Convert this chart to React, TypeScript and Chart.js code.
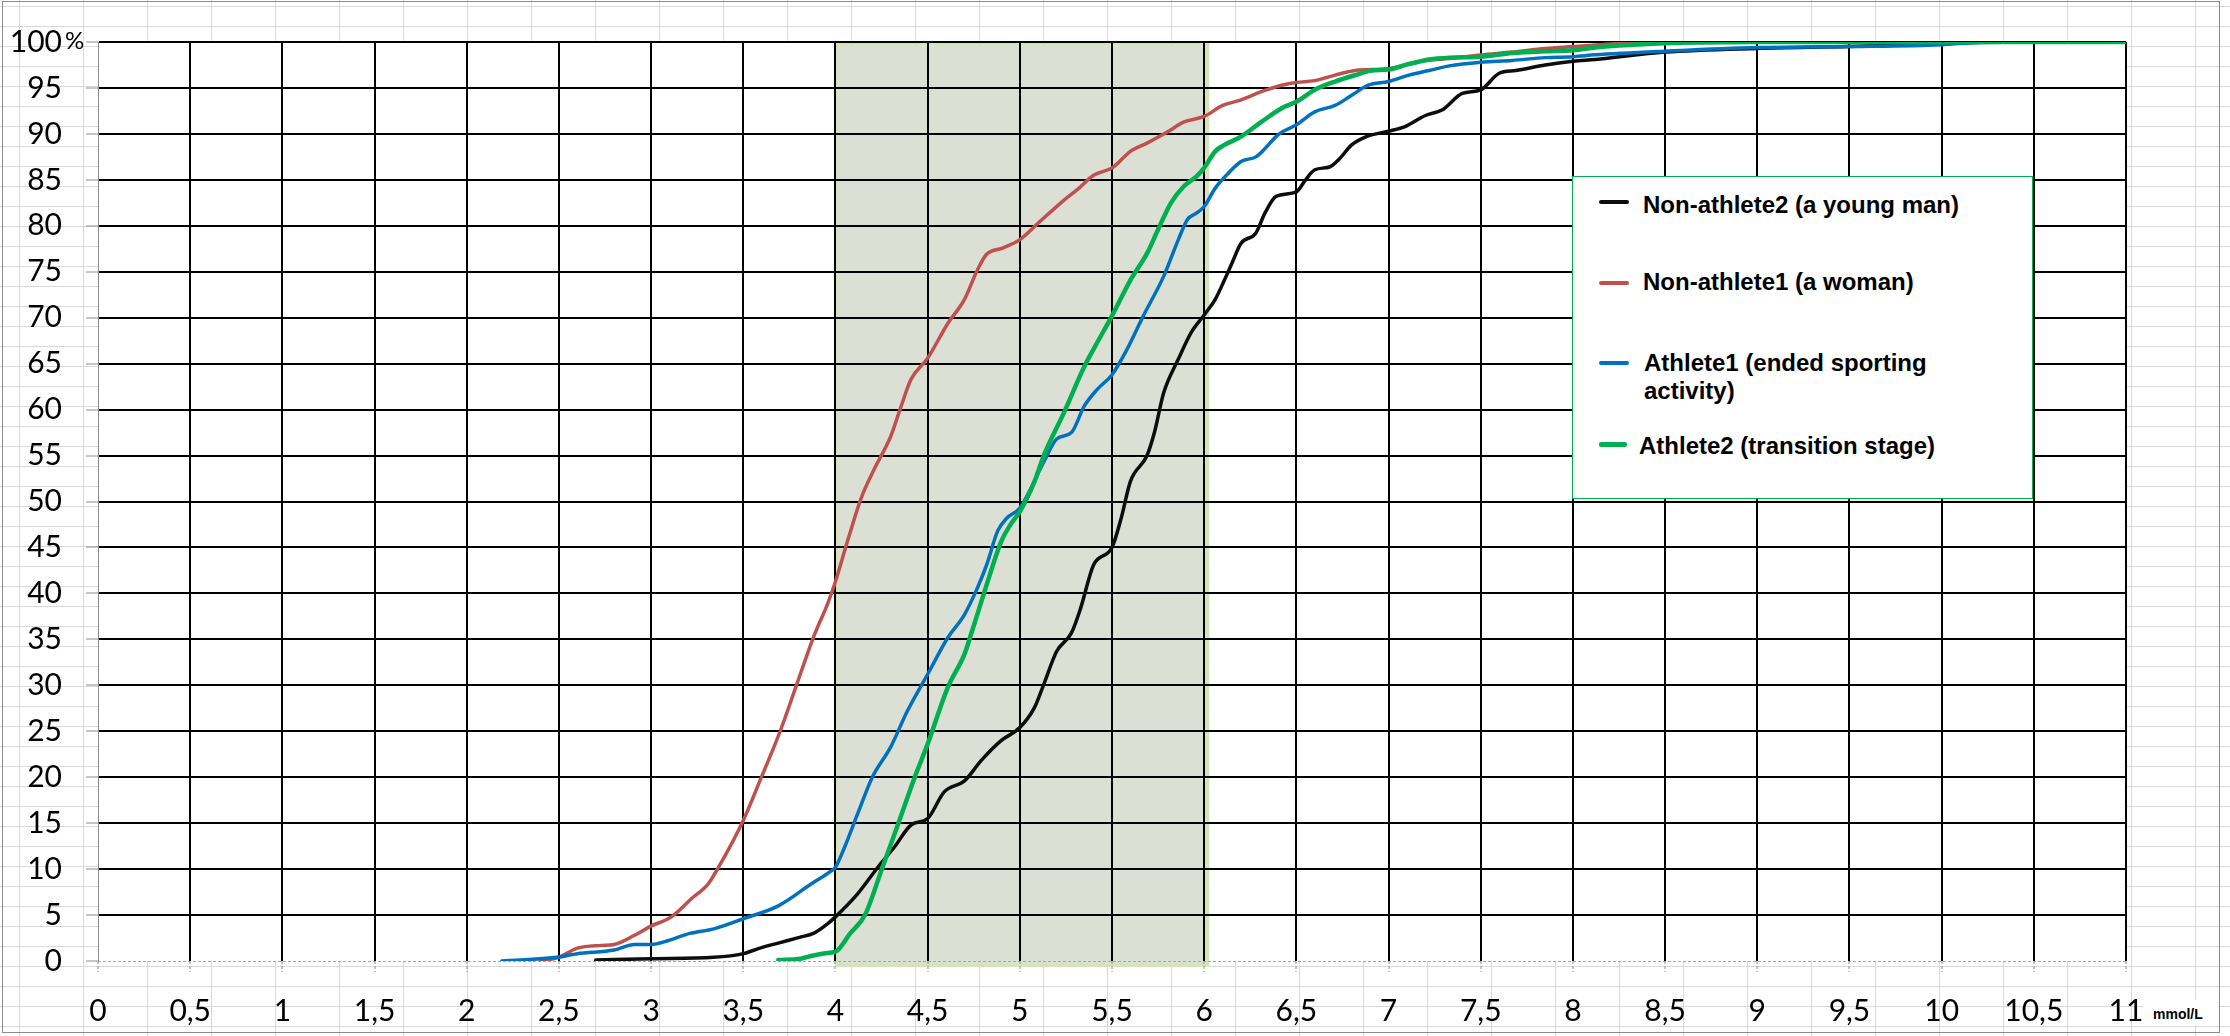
import { useEffect, useRef } from 'react';
import { Chart, registerables } from 'chart.js';

Chart.register(...registerables);

// glucose level, mmol/L (x) -> cumulative share of readings, % (y)
const SERIES_NAMES = [
  'Non-athlete2 (a young man)',
  'Non-athlete1 (a woman)',
  'Athlete1 (ended sporting activity)',
  'Athlete2 (transition stage)',
];
const SERIES_COLORS = ['#0d0d0d', '#c0504d', '#0070c0', '#00b050'];

const BLACK_X = [2.7, 3.0, 3.34, 3.5, 3.59, 3.7, 3.81, 3.88, 3.96, 4.0, 4.12, 4.23, 4.32, 4.41, 4.5, 4.59, 4.7, 4.79, 4.9, 5.0, 5.08, 5.13, 5.2, 5.28, 5.33, 5.4, 5.5, 5.55, 5.6, 5.69, 5.73, 5.78, 5.86, 5.93, 6.0, 6.06, 6.11, 6.15, 6.2, 6.28, 6.33, 6.39, 6.5, 6.55, 6.6, 6.68, 6.73, 6.8, 6.88, 7.0, 7.09, 7.2, 7.29, 7.4, 7.5, 7.6, 7.69, 7.85, 8.0, 8.12, 8.5, 9.0, 9.5, 10.0, 10.3, 11];
const BLACK_Y = [0.1, 0.25, 0.4, 0.8, 1.4, 2.0, 2.6, 3.0, 4.1, 4.8, 7.3, 10.2, 12.4, 14.8, 15.5, 18.4, 19.6, 21.8, 24.0, 25.4, 27.6, 30.1, 33.7, 35.7, 38.4, 43.1, 45.0, 48.2, 52.2, 55.0, 57.5, 61.8, 65.5, 68.4, 70.3, 72.0, 74.1, 75.9, 78.1, 79.2, 81.4, 83.2, 83.7, 85.0, 86.1, 86.4, 87.2, 88.8, 89.7, 90.3, 90.8, 92.0, 92.6, 94.4, 94.8, 96.6, 96.9, 97.5, 97.9, 98.1, 98.9, 99.3, 99.5, 99.8, 100, 100];

const RED_X = [2.4, 2.5, 2.6, 2.73, 2.8, 2.91, 3.0, 3.11, 3.22, 3.31, 3.36, 3.5, 3.59, 3.7, 3.79, 3.88, 3.96, 4.0, 4.07, 4.14, 4.21, 4.3, 4.35, 4.41, 4.5, 4.61, 4.7, 4.77, 4.82, 4.91, 5.0, 5.1, 5.24, 5.31, 5.4, 5.5, 5.6, 5.69, 5.8, 5.89, 6.0, 6.1, 6.2, 6.31, 6.42, 6.5, 6.6, 6.71, 6.82, 7.0, 7.11, 7.22, 7.33, 7.5, 7.67, 7.85, 8.0, 8.23, 8.5, 9.0, 11];
const RED_Y = [0, 0.4, 1.4, 1.7, 1.8, 2.8, 3.8, 4.8, 6.8, 8.4, 10.0, 15.3, 19.6, 25.0, 30.1, 35.2, 39.0, 41.3, 46.0, 50.4, 53.5, 57.1, 60.0, 63.3, 65.6, 69.4, 72.0, 75.2, 76.9, 77.6, 78.5, 80.3, 82.8, 83.9, 85.5, 86.3, 88.1, 89.0, 90.2, 91.3, 91.9, 93.1, 93.7, 94.6, 95.3, 95.6, 95.8, 96.4, 96.9, 97.1, 97.6, 98.0, 98.2, 98.6, 98.9, 99.3, 99.5, 99.8, 99.9, 100, 100];

const BLUE_X = [2.19, 2.5, 2.6, 2.8, 2.91, 3.0, 3.09, 3.21, 3.34, 3.5, 3.69, 3.87, 3.97, 4.0, 4.05, 4.12, 4.2, 4.3, 4.39, 4.5, 4.61, 4.7, 4.77, 4.82, 4.88, 4.93, 5.0, 5.13, 5.2, 5.28, 5.35, 5.42, 5.5, 5.58, 5.67, 5.78, 5.86, 5.91, 5.96, 6.0, 6.06, 6.13, 6.2, 6.28, 6.33, 6.4, 6.5, 6.6, 6.71, 6.8, 6.89, 7.0, 7.11, 7.22, 7.33, 7.5, 7.67, 7.85, 8.0, 8.12, 8.5, 9.0, 9.5, 10.0, 10.14, 10.5, 11];
const BLUE_Y = [0, 0.43, 0.8, 1.2, 1.8, 1.8, 2.2, 3.0, 3.5, 4.6, 6.0, 8.4, 9.7, 10.2, 12.4, 16.0, 20.0, 23.3, 27.2, 31.2, 35.2, 37.7, 40.6, 43.1, 46.8, 48.2, 49.3, 54.3, 56.8, 57.5, 60.4, 62.2, 63.8, 66.5, 70.2, 74.5, 78.5, 80.7, 81.4, 82.1, 84.1, 85.7, 87.0, 87.5, 88.4, 89.9, 91.0, 92.4, 93.1, 94.2, 95.3, 95.7, 96.4, 96.9, 97.4, 97.8, 98.0, 98.3, 98.4, 98.6, 99.0, 99.4, 99.5, 99.7, 99.9, 100, 100];

const GREEN_X = [3.69, 3.81, 3.88, 3.97, 4.0, 4.08, 4.16, 4.25, 4.34, 4.43, 4.5, 4.61, 4.7, 4.73, 4.81, 4.9, 4.95, 5.0, 5.08, 5.13, 5.24, 5.35, 5.42, 5.5, 5.6, 5.69, 5.75, 5.82, 5.89, 5.96, 6.0, 6.06, 6.11, 6.2, 6.31, 6.42, 6.5, 6.6, 6.71, 6.82, 6.91, 7.0, 7.11, 7.22, 7.33, 7.5, 7.67, 7.85, 8.0, 8.12, 8.23, 8.54, 9.0, 11];
const GREEN_Y = [0.1, 0.25, 0.6, 0.9, 1.0, 3.0, 5.0, 9.9, 14.9, 20.0, 23.6, 29.8, 33.4, 35.2, 40.3, 45.7, 47.5, 48.9, 52.2, 55.0, 59.7, 64.7, 67.3, 70.2, 74.1, 77.0, 79.6, 82.5, 84.3, 85.4, 86.3, 88.1, 88.8, 89.7, 91.3, 92.8, 93.5, 94.8, 95.7, 96.4, 96.9, 97.0, 97.6, 98.1, 98.3, 98.4, 98.8, 99.0, 99.1, 99.4, 99.6, 99.9, 100, 100];

const X_TICKS = [0, 0.5, 1, 1.5, 2, 2.5, 3, 3.5, 4, 4.5, 5, 5.5, 6, 6.5, 7, 7.5, 8, 8.5, 9, 9.5, 10, 10.5, 11];
const Y_TICKS = [0, 5, 10, 15, 20, 25, 30, 35, 40, 45, 50, 55, 60, 65, 70, 75, 80, 85, 90, 95, 100];
const NORMAL_RANGE = [4, 6];
const X_UNIT = 'mmol/L';

const SERIES_X = [BLACK_X, RED_X, BLUE_X, GREEN_X];
const SERIES_Y = [BLACK_Y, RED_Y, BLUE_Y, GREEN_Y];
const LINE_WIDTHS = [3.5, 3.5, 3.5, 4.5];
const DRAW_ORDER = [3, 2, 1, 0];

const tickFont = { family: 'Lato', size: 30 };

const rangePlugin = {
  id: 'normalRange',
  beforeDraw(chart: any) {
    const { ctx, chartArea, scales } = chart;
    ctx.save();
    ctx.fillStyle = '#ffffff';
    ctx.fillRect(chartArea.left, chartArea.top, chartArea.right - chartArea.left, chartArea.bottom - chartArea.top);
    const x0 = scales.x.getPixelForValue(NORMAL_RANGE[0]);
    const x1 = scales.x.getPixelForValue(NORMAL_RANGE[1]);
    ctx.fillStyle = '#dcdfd4';
    ctx.fillRect(x0, chartArea.top, x1 - x0 + 5, chartArea.bottom - chartArea.top + 6);
    ctx.strokeStyle = '#d6e2b8';
    ctx.lineWidth = 3;
    ctx.strokeRect(x0 + 1.5, chartArea.top + 1.5, x1 - x0 + 2, chartArea.bottom - chartArea.top + 3);
    ctx.restore();
  },
  beforeDatasetsDraw(chart: any) {
    // dashed grey x axis line along 0 %
    const { ctx, chartArea } = chart;
    ctx.save();
    ctx.strokeStyle = '#a6a6a6';
    ctx.lineWidth = 1;
    ctx.setLineDash([3, 2]);
    ctx.beginPath();
    ctx.moveTo(chartArea.left, Math.round(chartArea.bottom) + 0.5);
    ctx.lineTo(chartArea.right, Math.round(chartArea.bottom) + 0.5);
    ctx.stroke();
    ctx.restore();
  },
  afterDraw(chart: any) {
    const { ctx, scales } = chart;
    ctx.save();
    ctx.font = '24px Lato';
    ctx.fillStyle = '#000';
    ctx.textBaseline = 'alphabetic';
    ctx.fillText('%', 65, scales.y.getPixelForValue(100) + 6.5);
    ctx.restore();
  },
};

function Legend() {
  const textTops = [14, 91, 172, 255];
  const textLefts = [70, 70, 71, 66];
  const swatchMids = [25, 106, 186, 267];
  return (
    <div
      style={{
        position: 'absolute',
        left: 1572,
        top: 176,
        width: 461,
        height: 323,
        boxSizing: 'border-box',
        border: '1.5px solid #00b050',
        background: '#ffffff',
        fontFamily: '"Liberation Sans", Arial, sans-serif',
        fontWeight: 'bold',
        fontSize: 24,
        lineHeight: '28px',
        color: '#000',
      }}
    >
      {SERIES_NAMES.map((name, i) => (
        <div key={name}>
          <div
            style={{
              position: 'absolute',
              left: 26,
              top: swatchMids[i] - 2,
              width: i === 3 ? 28 : 30,
              height: i === 3 ? 5 : 4,
              borderRadius: 2,
              background: SERIES_COLORS[i],
            }}
          />
          <div style={{ position: 'absolute', left: textLefts[i], top: textTops[i], width: 330 }}>{name}</div>
        </div>
      ))}
    </div>
  );
}

export default function App() {
  const canvasRef = useRef<HTMLCanvasElement>(null);
  const chartRef = useRef<Chart | null>(null);

  useEffect(() => {
    if (!canvasRef.current) return;
    document.body.style.margin = '0';

    chartRef.current = new Chart(canvasRef.current, {
      type: 'line',
      data: {
        datasets: SERIES_NAMES.map((name, i) => ({
          label: name,
          data: SERIES_X[i].map((x, j) => ({ x, y: SERIES_Y[i][j] })),
          borderColor: SERIES_COLORS[i],
          backgroundColor: SERIES_COLORS[i],
          borderWidth: LINE_WIDTHS[i],
          pointRadius: 0,
          fill: false,
          cubicInterpolationMode: 'monotone' as const,
          borderCapStyle: 'round' as const,
          borderJoinStyle: 'round' as const,
          order: DRAW_ORDER[i],
        })),
      },
      options: {
        responsive: false,
        maintainAspectRatio: false,
        animation: false,
        devicePixelRatio: 1,
        layout: { padding: { top: 39, right: 104, left: 0, bottom: 0 } },
        plugins: { legend: { display: false }, tooltip: { enabled: false } },
        scales: {
          x: {
            type: 'linear',
            min: 0,
            max: 11,
            afterBuildTicks: (axis: any) => {
              axis.ticks = X_TICKS.map((value) => ({ value }));
            },
            afterFit: (axis: any) => {
              axis.height = 75;
            },
            ticks: {
              autoSkip: false,
              maxRotation: 0,
              padding: 21,
              color: '#000',
              font: tickFont,
              callback: (v: any) => String(v).replace('.', ','),
            },
            grid: {
              color: (c: any) => (c.tick && c.tick.value === 0 ? 'rgba(0,0,0,0)' : '#000'),
              lineWidth: 2,
              tickLength: 11,
              tickColor: '#8c8c8c',
              tickWidth: 1,
              tickBorderDash: [3, 2],
            },
            border: { display: false },
          },
          y: {
            type: 'linear',
            min: 0,
            max: 100,
            afterBuildTicks: (axis: any) => {
              axis.ticks = Y_TICKS.map((value) => ({ value }));
            },
            afterFit: (axis: any) => {
              axis.width = 98;
            },
            ticks: {
              padding: 24,
              color: '#000',
              font: tickFont,
              callback: (v: any) => String(v),
            },
            grid: {
              color: (c: any) => (c.tick && c.tick.value === 0 ? 'rgba(0,0,0,0)' : '#000'),
              lineWidth: 2,
              tickLength: 12,
              tickColor: '#8c8c8c',
              tickWidth: 1,
            },
            border: { display: true, color: '#8c8c8c', width: 1 },
          },
        },
      },
      plugins: [rangePlugin],
    });

    return () => {
      chartRef.current?.destroy();
      chartRef.current = null;
    };
  }, []);

  return (
    <div
      style={{
        position: 'fixed',
        left: 0,
        top: 0,
        width: 2230,
        height: 1036,
        overflow: 'hidden',
        backgroundColor: '#ffffff',
        backgroundImage:
          'linear-gradient(to right, #d9d9d9 1px, transparent 1px), linear-gradient(to bottom, #d9d9d9 1px, transparent 1px)',
        backgroundSize: '64px 20px',
        backgroundPosition: '19px 6px',
      }}
    >
      <div
        style={{
          position: 'absolute',
          left: 2,
          top: 1,
          width: 2218,
          height: 1032,
          boxSizing: 'border-box',
          border: '1px solid #8c8c8c',
        }}
      />
      <canvas
        ref={canvasRef}
        width={2230}
        height={1036}
        style={{ position: 'absolute', left: 0, top: 0, width: 2230, height: 1036 }}
      />
      <Legend />
      <div
        style={{
          position: 'absolute',
          left: 2143,
          top: 1000,
          width: 75,
          height: 25,
          boxSizing: 'border-box',
          paddingLeft: 10,
          paddingTop: 2,
          background: '#ffffff',
          fontFamily: '"Liberation Sans", Arial, sans-serif',
          fontWeight: 'bold',
          fontSize: 14,
          lineHeight: '25px',
          color: '#000',
        }}
      >
        {X_UNIT}
      </div>
    </div>
  );
}
